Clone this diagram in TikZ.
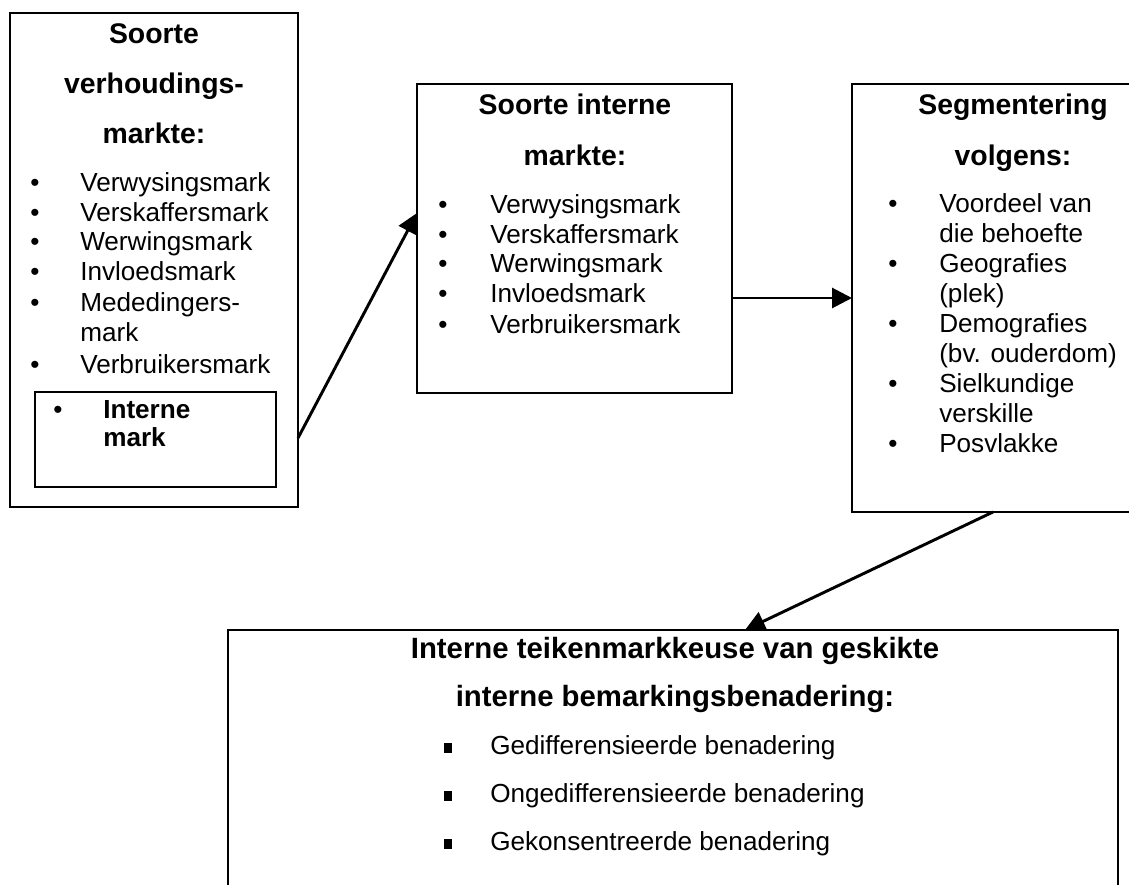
\documentclass[tikz,border=0pt]{standalone}
\usepackage{fontspec}
\setmainfont{Liberation Sans}
\usetikzlibrary{arrows.meta,fit}
\begin{document}
\begin{tikzpicture}[x=0.75pt,y=-0.75pt,
  box/.style={draw,line width=2.2pt,inner sep=0pt,outer sep=0pt},
  title/.style={font=\fontsize{21.3}{25}\selectfont\bfseries,anchor=mid,inner sep=0pt},
  bigtitle/.style={font=\fontsize{22}{26}\selectfont\bfseries,anchor=mid,inner sep=0pt},
  item/.style={font=\fontsize{19.6}{23}\selectfont,anchor=mid west,inner sep=0pt},
  bolditem/.style={font=\fontsize{19.6}{23}\selectfont\bfseries,anchor=mid west,inner sep=0pt},
  dot/.style={font=\fontsize{19.6}{23}\selectfont,anchor=mid,inner sep=0pt},
  sq/.style={fill=black,inner sep=0pt,minimum width=6pt,minimum height=7.5pt},
  conn/.style={line width=2.2pt,-{Triangle[length=15pt,width=15pt]}}
]
\useasboundingbox (0,0) rectangle (1129,885);
\fill[white] (0,0) rectangle (1129,885);
\clip (0,0) rectangle (1129,885);

% ---- Soorte verhoudingsmarkte ----
\node[box,fit={(10,13) (298,507)}] (rel) {};
\node[title] (relt1) at (154,40) {Soorte};
\node[title] (relt2) at (154,90) {verhoudings-};
\node[title] (relt3) at (154,140) {markte:};
\node[dot] (rd1) at (35,188) {•}; \node[item] (ri1) at (80,188) {Verwysingsmark};
\node[dot] (rd2) at (35,218) {•}; \node[item] (ri2) at (80,218) {Verskaffersmark};
\node[dot] (rd3) at (35,247) {•}; \node[item] (ri3) at (80,247) {Werwingsmark};
\node[dot] (rd4) at (35,277) {•}; \node[item] (ri4) at (80,277) {Invloedsmark};
\node[dot] (rd5) at (35,308) {•}; \node[item] (ri5) at (80,308) {Mededingers-};
\node[item] (ri5b) at (80,338) {mark};
\node[dot] (rd6) at (35,370) {•}; \node[item] (ri6) at (80,370) {Verbruikersmark};
\node[box,fit={(35,392) (276,487)}] (intern) {};
\node[dot] (id1) at (58,415) {•};
\node[bolditem] (ii1) at (103,415) {Interne};
\node[bolditem] (ii2) at (103,443) {mark};

% ---- Soorte interne markte ----
\node[box,fit={(417,84) (732,393)}] (mid) {};
\node[title] (midt1) at (575,111) {Soorte interne};
\node[title] (midt2) at (575,162) {markte:};
\node[dot] (md1) at (443,210) {•}; \node[item] (mi1) at (490,210) {Verwysingsmark};
\node[dot] (md2) at (443,240) {•}; \node[item] (mi2) at (490,240) {Verskaffersmark};
\node[dot] (md3) at (443,269) {•}; \node[item] (mi3) at (490,269) {Werwingsmark};
\node[dot] (md4) at (443,299) {•}; \node[item] (mi4) at (490,299) {Invloedsmark};
\node[dot] (md5) at (443,330) {•}; \node[item] (mi5) at (490,330) {Verbruikersmark};

% ---- Segmentering volgens ----
\node[box,fit={(852,84) (1190,512)}] (seg) {};
\node[title] (segt1) at (1013,111) {Segmentering};
\node[title] (segt2) at (1013,162) {volgens:};
\node[dot] (sd1) at (893,209) {•}; \node[item] (si1) at (939,209) {Voordeel van};
\node[item] (si1b) at (939,239) {die behoefte};
\node[dot] (sd2) at (893,269) {•}; \node[item] (si2) at (939,269) {Geografies};
\node[item] (si2b) at (939,299) {(plek)};
\node[dot] (sd3) at (893,329) {•}; \node[item] (si3) at (939,329) {Demografies};
\node[item] (si3b) at (939,359) {(bv. ouderdom)};
\node[dot] (sd4) at (893,389) {•}; \node[item] (si4) at (939,389) {Sielkundige};
\node[item] (si4b) at (939,419) {verskille};
\node[dot] (sd5) at (893,449) {•}; \node[item] (si5) at (939,449) {Posvlakke};

% ---- Interne teikenmarkkeuse ----
\node[box,fit={(228,630) (1118,900)}] (target) {};
\node[bigtitle] (tt1) at (675,655) {Interne teikenmarkkeuse van geskikte};
\node[bigtitle] (tt2) at (675,703) {interne bemarkingsbenadering:};
\node[sq] (ts1) at (448,748) {}; \node[item] (ti1) at (490,751) {Gedifferensieerde benadering};
\node[sq] (ts2) at (448,796) {}; \node[item] (ti2) at (490,799) {Ongedifferensieerde benadering};
\node[sq] (ts3) at (448,844) {}; \node[item] (ti3) at (490,847) {Gekonsentreerde benadering};

% ---- connectors ----
\path (rel.north east) ++(0,425) coordinate (a1s);
\path (mid.north west) ++(0,129) coordinate (a1e);
\path (mid.north east) ++(0,214) coordinate (a2s);
\path (seg.north west) ++(0,214) coordinate (a2e);
\path (seg.south west) ++(141,0) coordinate (a3s);
\path (target.north west) ++(517,0) coordinate (a3e);
\draw[conn] (a1s) -- (a1e);
\draw[conn] (a2s) -- (a2e);
\draw[conn] (a3s) -- (a3e);
\end{tikzpicture}
\end{document}
